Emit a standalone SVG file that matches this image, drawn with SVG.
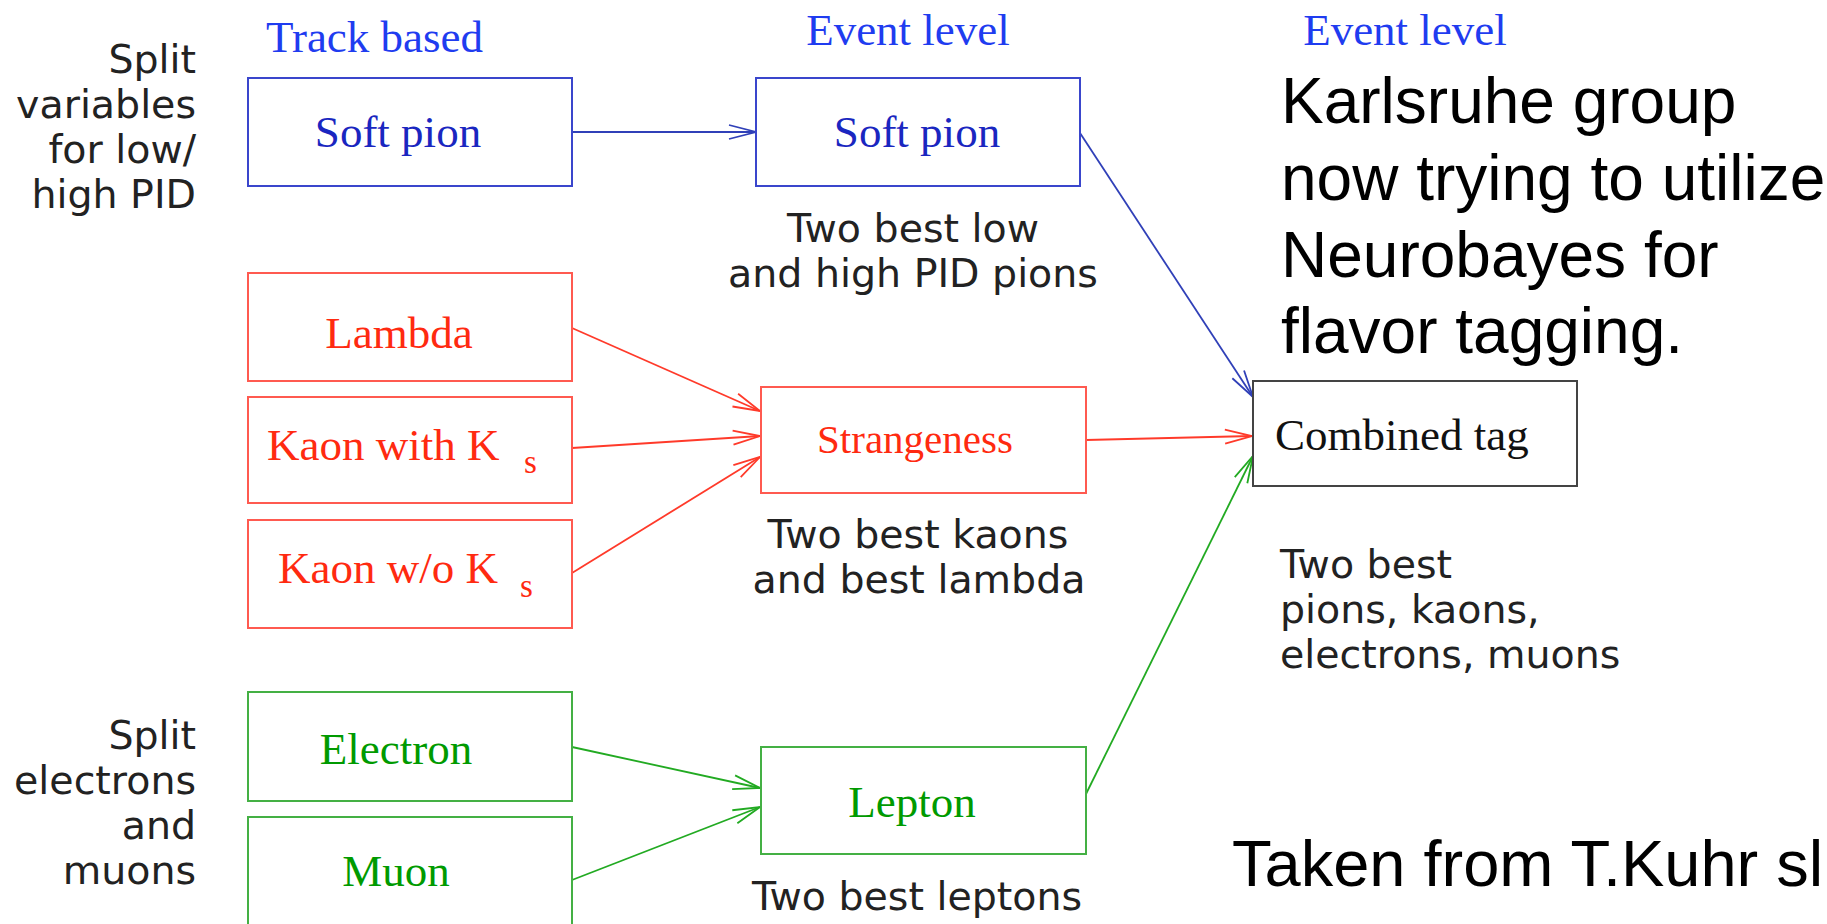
<svg xmlns="http://www.w3.org/2000/svg" width="1827" height="924" viewBox="0 0 1827 924">
<style>
.bg{fill:#ffffff}
.box{fill:#ffffff;stroke-width:2}
.bb{stroke:#3a46cc}
.rb{stroke:#ff5a50}
.gb{stroke:#44b044}
.kb{stroke:#444444}
.lbl{font-family:"Liberation Serif","Times New Roman",serif;font-size:45px}
.bt{fill:#1a26c0}
.rt{fill:#ff2a10}
.gt{fill:#009a00}
.kt{fill:#111111}
.hdr{font-family:"Liberation Serif","Times New Roman",serif;font-size:45px;fill:#1f3cf0}
.note{font-family:"DejaVu Sans",Verdana,sans-serif;font-size:39.5px;fill:#222222}
.big{font-family:"Liberation Sans",Arial,sans-serif;font-size:64px;fill:#000000}
.sub{font-family:"Liberation Serif","Times New Roman",serif;font-size:33px}
.cb{stroke:#3040b8;stroke-width:1.8;fill:none}
.cr{stroke:#ff3a2a;stroke-width:1.8;fill:none}
.cg{stroke:#22aa22;stroke-width:1.8;fill:none}
</style>
<defs>
<marker id="ab" markerUnits="userSpaceOnUse" markerWidth="30" markerHeight="18" refX="27" refY="8" orient="auto" overflow="visible"><path d="M0,1 L27,8 L0,15" fill="none" stroke="#3040b8" stroke-width="1.8"/></marker>
<marker id="ar" markerUnits="userSpaceOnUse" markerWidth="30" markerHeight="18" refX="27" refY="8" orient="auto" overflow="visible"><path d="M0,1 L27,8 L0,15" fill="none" stroke="#ff3a2a" stroke-width="1.8"/></marker>
<marker id="ag" markerUnits="userSpaceOnUse" markerWidth="30" markerHeight="18" refX="27" refY="8" orient="auto" overflow="visible"><path d="M0,1 L27,8 L0,15" fill="none" stroke="#22aa22" stroke-width="1.8"/></marker>
</defs>
<rect class="bg" x="0" y="0" width="1827" height="924"/>

<g id="headers">
<text class="hdr" x="266" y="52">Track based</text>
<text class="hdr" x="908" y="45" text-anchor="middle">Event level</text>
<text class="hdr" x="1405" y="45" text-anchor="middle">Event level</text>
</g>

<g id="side-notes">
<text class="note" text-anchor="end"><tspan x="196" y="73">Split</tspan><tspan x="196" y="118">variables</tspan><tspan x="196" y="163">for low/</tspan><tspan x="196" y="208">high PID</tspan></text>
<text class="note" text-anchor="end"><tspan x="196" y="749">Split</tspan><tspan x="196" y="794">electrons</tspan><tspan x="196" y="839">and</tspan><tspan x="196" y="884">muons</tspan></text>
</g>

<g id="connectors">
<line class="cb" x1="572" y1="132" x2="756" y2="132" marker-end="url(#ab)"/>
<line class="cb" x1="1080" y1="133" x2="1253" y2="397" marker-end="url(#ab)"/>
<line class="cr" x1="572" y1="328" x2="760" y2="411" marker-end="url(#ar)"/>
<line class="cr" x1="572" y1="448" x2="760" y2="436" marker-end="url(#ar)"/>
<line class="cr" x1="572" y1="573" x2="760" y2="457" marker-end="url(#ar)"/>
<line class="cr" x1="1086" y1="440" x2="1252" y2="436" marker-end="url(#ar)"/>
<line class="cg" x1="572" y1="747" x2="760" y2="788" marker-end="url(#ag)"/>
<line class="cg" x1="572" y1="880" x2="760" y2="807" marker-end="url(#ag)"/>
<line class="cg" x1="1086" y1="794" x2="1253" y2="456" marker-end="url(#ag)"/>
</g>

<g id="node-softpion-track">
<rect class="box bb" x="248" y="78" width="324" height="108"/>
<text class="lbl bt" x="398" y="147" text-anchor="middle">Soft pion</text>
</g>
<g id="node-softpion-event">
<rect class="box bb" x="756" y="78" width="324" height="108"/>
<text class="lbl bt" x="917" y="147" text-anchor="middle">Soft pion</text>
<text class="note" text-anchor="middle"><tspan x="913" y="242">Two best low</tspan><tspan x="913" y="287">and high PID pions</tspan></text>
</g>

<g id="node-lambda">
<rect class="box rb" x="248" y="273" width="324" height="108"/>
<text class="lbl rt" x="399" y="348" text-anchor="middle">Lambda</text>
</g>
<g id="node-kaon-with-ks">
<rect class="box rb" x="248" y="397" width="324" height="106"/>
<text class="lbl rt" x="267" y="460">Kaon with K</text>
<text class="sub rt" x="524" y="473">s</text>
</g>
<g id="node-kaon-wo-ks">
<rect class="box rb" x="248" y="520" width="324" height="108"/>
<text class="lbl rt" x="278" y="583">Kaon w/o K</text>
<text class="sub rt" x="520" y="597">s</text>
</g>
<g id="node-strangeness">
<rect class="box rb" x="761" y="387" width="325" height="106"/>
<text class="lbl rt" x="915" y="453" text-anchor="middle" style="font-size:41px">Strangeness</text>
<text class="note" text-anchor="middle"><tspan x="918" y="548">Two best kaons</tspan><tspan x="919" y="593">and best lambda</tspan></text>
</g>

<g id="node-electron">
<rect class="box gb" x="248" y="692" width="324" height="109"/>
<text class="lbl gt" x="396" y="764" text-anchor="middle">Electron</text>
</g>
<g id="node-muon">
<rect class="box gb" x="248" y="817" width="324" height="112"/>
<text class="lbl gt" x="396" y="886" text-anchor="middle">Muon</text>
</g>
<g id="node-lepton">
<rect class="box gb" x="761" y="747" width="325" height="107"/>
<text class="lbl gt" x="912" y="817" text-anchor="middle">Lepton</text>
<text class="note" x="917" y="910" text-anchor="middle">Two best leptons</text>
</g>

<g id="node-combined">
<rect class="box kb" x="1253" y="381" width="324" height="105"/>
<text class="lbl kt" x="1275" y="450">Combined tag</text>
<text class="note"><tspan x="1280" y="578">Two best</tspan><tspan x="1280" y="623">pions, kaons,</tspan><tspan x="1280" y="668">electrons, muons</tspan></text>
</g>

<g id="annotations">
<text class="big"><tspan x="1281" y="123">Karlsruhe group</tspan><tspan x="1281" y="200">now trying to utilize</tspan><tspan x="1281" y="277">Neurobayes for</tspan><tspan x="1281" y="353">flavor tagging.</tspan></text>
<text class="big" x="1232" y="886" style="font-size:65px">Taken from T.Kuhr sl</text>
</g>
</svg>
